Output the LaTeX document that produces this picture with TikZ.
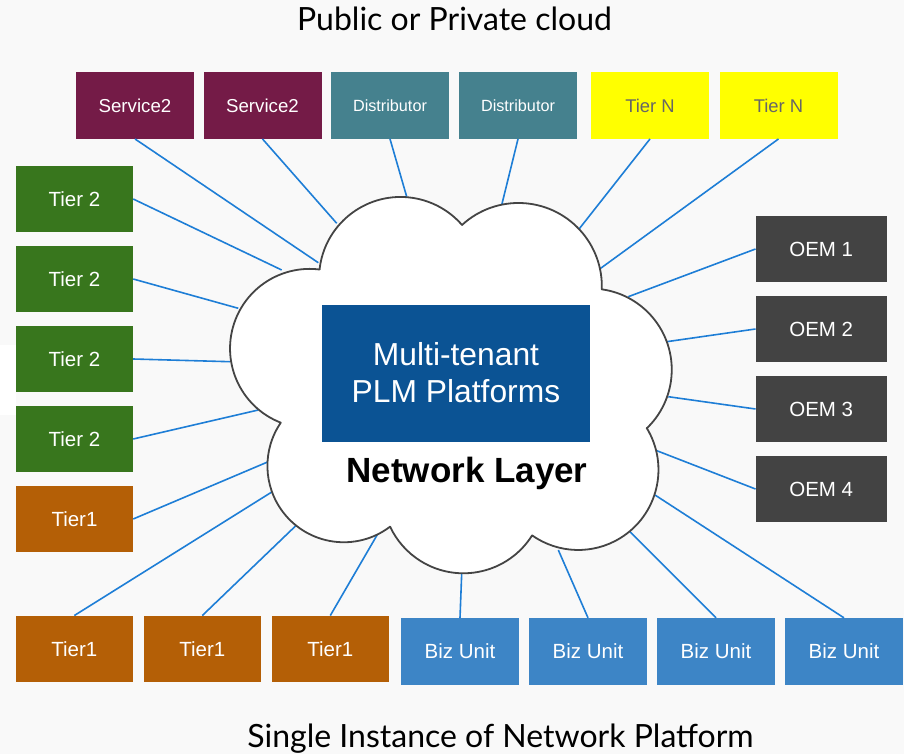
\documentclass[tikz,border=0pt]{standalone}
\usepackage{fontspec}
\setmainfont{Liberation Sans}
\newfontfamily\latofont{Lato}
\definecolor{bgc}{HTML}{F9F9F9}
\definecolor{servc}{HTML}{741B47}
\definecolor{distc}{HTML}{45818E}
\definecolor{tiernc}{HTML}{FFFF00}
\definecolor{tierntext}{HTML}{666666}
\definecolor{tiertwoc}{HTML}{38761D}
\definecolor{tieronec}{HTML}{B45F06}
\definecolor{oemc}{HTML}{434343}
\definecolor{bizc}{HTML}{3D85C6}
\definecolor{plmc}{HTML}{0B5394}
\definecolor{linkc}{RGB}{30,126,214}
\definecolor{cloudc}{HTML}{444444}
\begin{document}
\begin{tikzpicture}[x=1pt,y=-1pt,
  box/.style={rectangle, inner sep=0pt, minimum height=66.5pt, text=white, font=\fontsize{20.5}{24}\selectfont},
  topbox/.style={box, minimum width=118pt},
  sidebox/.style={box, minimum width=117pt},
  oembox/.style={box, minimum width=131pt},
  botbox/.style={box, minimum width=118pt},
  link/.style={draw=linkc, line width=1.6pt},
  cloudline/.style={draw=cloudc, fill=white, line width=1.8pt, line join=round},
  title/.style={font=\latofont\fontsize{32}{38}\selectfont, text=black, inner sep=0pt, anchor=base},
]
\fill[bgc] (0,0) rectangle (904,754);
\useasboundingbox (0,0) rectangle (904,754);
\fill[white] (0,345) rectangle (16,415);

% titles
\node[title] (ttop) at (454.5,30.5) {Public or Private cloud};
\node[title] (tbot) at (500.5,747) {Single Instance of Network Platform};

% top row
\node[topbox, fill=servc, font=\fontsize{18.7}{22}\selectfont] (s1) at (135,105.5) {Service2};
\node[topbox, fill=servc, font=\fontsize{18.7}{22}\selectfont] (s2) at (262.5,105.5) {Service2};
\node[topbox, fill=distc, font=\fontsize{16.2}{20}\selectfont] (d1) at (390,105.5) {Distributor};
\node[topbox, fill=distc, font=\fontsize{16.2}{20}\selectfont] (d2) at (518,105.5) {Distributor};
\node[topbox, fill=tiernc, text=tierntext, font=\fontsize{18.4}{22}\selectfont] (n1) at (650,105.5) {Tier N};
\node[topbox, fill=tiernc, text=tierntext, font=\fontsize{18.4}{22}\selectfont] (n2) at (778.5,105.5) {Tier N};

% left column
\node[sidebox, fill=tiertwoc] (g1) at (74.5,199) {Tier 2};
\node[sidebox, fill=tiertwoc] (g2) at (74.5,279) {Tier 2};
\node[sidebox, fill=tiertwoc] (g3) at (74.5,359) {Tier 2};
\node[sidebox, fill=tiertwoc] (g4) at (74.5,439) {Tier 2};
\node[sidebox, fill=tieronec] (tl) at (74.5,519) {Tier1};

% right column
\node[oembox, fill=oemc] (o1) at (821.2,249) {OEM 1};
\node[oembox, fill=oemc] (o2) at (821.2,329) {OEM 2};
\node[oembox, fill=oemc] (o3) at (821.2,409) {OEM 3};
\node[oembox, fill=oemc] (o4) at (821.2,489) {OEM 4};

% bottom row
\node[botbox, minimum width=117.4pt, fill=tieronec] (t1) at (74.3,649) {Tier1};
\node[botbox, minimum width=117.4pt, fill=tieronec] (t2) at (202.3,649) {Tier1};
\node[botbox, minimum width=117.4pt, fill=tieronec] (t3) at (330.3,649) {Tier1};
\node[botbox, fill=bizc] (b1) at (460,651.3) {Biz Unit};
\node[botbox, fill=bizc] (b2) at (588,651.3) {Biz Unit};
\node[botbox, fill=bizc] (b3) at (716,651.3) {Biz Unit};
\node[botbox, fill=bizc] (b4) at (844,651.3) {Biz Unit};

% cloud end points
\coordinate (cS1) at (318.3,262.7);
\coordinate (cS2) at (336.7,223.3);
\coordinate (cD1) at (406.7,196.7);
\coordinate (cD2) at (501.7,205);
\coordinate (cN1) at (578.3,230);
\coordinate (cN2) at (598.3,270);
\coordinate (cO1) at (628.3,296.7);
\coordinate (cO2) at (666.7,341.7);
\coordinate (cO3) at (668.3,396.7);
\coordinate (cO4) at (655,450);
\coordinate (cB4) at (655,495);
\coordinate (cB3) at (630,531.7);
\coordinate (cB2) at (558.3,550);
\coordinate (cB1) at (461.7,573.3);
\coordinate (cT3) at (380,530);
\coordinate (cT2) at (300,521.7);
\coordinate (cT1) at (275,490);
\coordinate (cTL) at (268.3,461.7);
\coordinate (cG4) at (258.3,410);
\coordinate (cG3) at (230,361.7);
\coordinate (cG2) at (238.3,308.3);
\coordinate (cG1) at (281.7,270);

% connectors
\draw[link] (s1.south) -- (cS1);
\draw[link] (s2.south) -- (cS2);
\draw[link] (d1.south) -- (cD1);
\draw[link] (d2.south) -- (cD2);
\draw[link] (n1.south) -- (cN1);
\draw[link] (n2.south) -- (cN2);
\draw[link] (o1.west) -- (cO1);
\draw[link] (o2.west) -- (cO2);
\draw[link] (o3.west) -- (cO3);
\draw[link] (o4.west) -- (cO4);
\draw[link] (b4.north) -- (cB4);
\draw[link] (b3.north) -- (cB3);
\draw[link] (b2.north) -- (cB2);
\draw[link] (b1.north) -- (cB1);
\draw[link] (t3.north) -- (cT3);
\draw[link] (t2.north) -- (cT2);
\draw[link] (t1.north) -- (cT1);
\draw[link] (tl.east) -- (cTL);
\draw[link] (g4.east) -- (cG4);
\draw[link] (g3.east) -- (cG3);
\draw[link] (g2.east) -- (cG2);
\draw[link] (g1.east) -- (cG1);

% cloud
\path[cloudline] (320,266) arc[start angle=188.8, end angle=319, radius=81.5]
  -- (462,225) arc[start angle=227.4, end angle=362, radius=83.4]
  -- (601.7,289.3) arc[start angle=-82.1, end angle=46.2, radius=81.2]
  -- (646.7,428) arc[start angle=-31.4, end angle=125.1, radius=80.2]
  -- (532.1,535.4) arc[start angle=32.2, end angle=154.8, radius=81.1]
  -- (390,526.7) arc[start angle=52.8, end angle=214.4, radius=76.4]
  -- (280.6,422.6) arc[start angle=111.4, end angle=277.2, radius=79.6]
  -- cycle;

% central box
\node[rectangle, fill=plmc, minimum width=268.3pt, minimum height=136.7pt, inner sep=0pt] (plm) at (455.85,373.35) {};
\node[anchor=base, inner sep=0pt, text=white, font=\fontsize{31.8}{37}\selectfont] (plm1) at (456,365) {Multi-tenant};
\node[anchor=base, inner sep=0pt, text=white, font=\fontsize{31.8}{37}\selectfont] (plm2) at (456,402.7) {PLM Platforms};
\node[anchor=base, inner sep=0pt, text=black, font=\bfseries\fontsize{35}{40}\selectfont] (net) at (467,482.7) {Network Layer};
\end{tikzpicture}
\end{document}
